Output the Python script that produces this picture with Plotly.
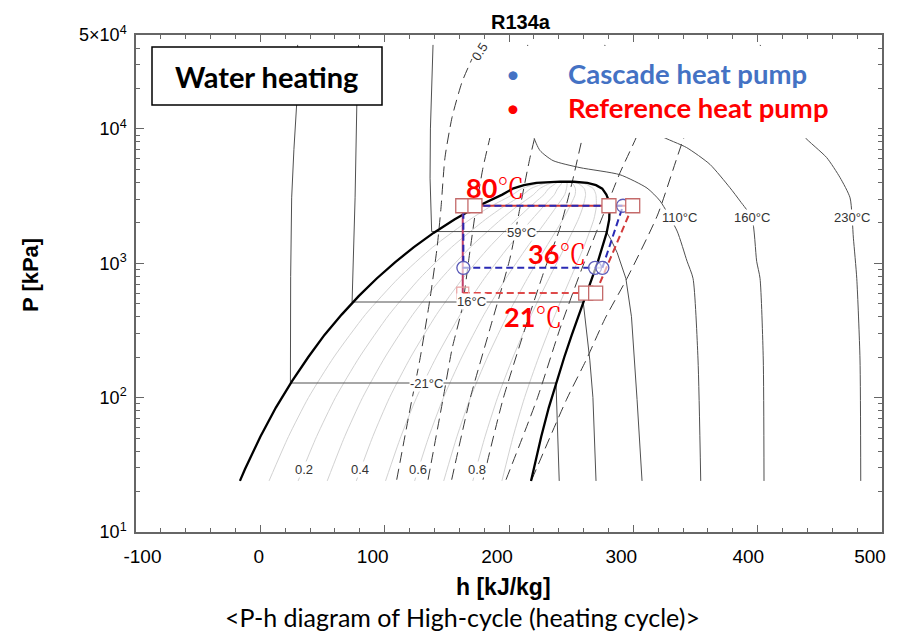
import plotly.graph_objects as go
import math

# ---------------- data (h in kJ/kg, P in kPa) ----------------
DOME_LIQ_H = [-16.4, -12.3, 0, 12.5, 25.5, 38.6, 51.6, 65.4, 79.3, 93.6, 108.3, 123.5, 139.3, 156.1, 174.0, 194.6, 203, 212, 222, 232, 241]
DOME_LIQ_P = [24, 29.4, 51.2, 84.4, 132.8, 200.7, 293, 414.9, 572.1, 770.6, 1017, 1319, 1682, 2117, 2633, 3244, 3591, 3814, 3972, 4040, 4059]
DOME_VAP_H = [241, 252, 263, 270, 275, 278.3, 280.2, 280.9, 280.6, 278.5, 275.3, 271.3, 266.7, 261.6, 256.2, 250.5, 244.5, 238.4, 232.0, 225.9, 219.5, 217.7]
DOME_VAP_P = [4059, 4045, 3972, 3814, 3591, 3244, 2926, 2633, 2117, 1682, 1319, 1017, 770.6, 572.1, 414.9, 293, 200.7, 132.8, 84.4, 51.2, 29.4, 24]

ISO_M21_H = [30, 29.2, 27.0, 25.2, 24.4, 24.2, 237.8, 238.6, 239.5, 240.4]
ISO_M21_P = [42200, 15100, 7000, 3070, 800, 128.5, 128.5, 80, 45, 24]
ISO_16_H = [79, 77.6, 76.2, 74.5, 73.8, 259.7, 262.5, 265, 267.5, 270]
ISO_16_P = [42200, 15100, 3070, 1000, 515, 515, 300, 190, 100, 24]
ISO_59_H = [138.9, 136.8, 136.5, 137.8, 278.3, 282, 287, 294, 298.5, 300.5, 303, 307]
ISO_59_P = [42200, 10000, 4300, 1722, 1722, 1500, 1200, 772, 400, 194, 97, 24]
ISO_110_H = [215, 219.3, 224.9, 235.4, 257.1, 289.3, 311, 321.5, 335.2, 343.2, 348, 352, 354.2]
ISO_110_P = [42200, 9100, 6910, 5810, 5150, 4560, 3630, 2910, 1737, 1036, 773, 194, 24]
ISO_160_H = [277, 293.3, 321.5, 342.9, 361.6, 377.7, 385.8, 395.4, 399.2, 401.9, 404.5, 405.1]
ISO_160_P = [42200, 14500, 8940, 7260, 5450, 3650, 2910, 2164, 1034, 773, 194, 24]
ISO_230_H = [402, 420, 436.7, 455.5, 466.3, 474.3, 477, 479.7, 482.3, 482.9]
ISO_230_P = [42200, 15000, 8900, 6120, 4336, 3070, 1538, 773, 194, 24]
ISO_LABELS = ["-21°C", "16°C", "59°C", "110°C", "160°C", "230°C"]
ISO_LABEL_H = [133.8, 170.0, 210.4, 337.5, 395.4, 475.6]
ISO_LABEL_P = [128.5, 519, 1707, 2174, 2174, 2174]

S05_H = [109.7, 120.4, 128.4, 136.5, 142.1, 145.3, 148.5, 154.2, 162.2, 170.2]
S05_P = [24.5, 82, 194, 547, 1295, 2582, 6115, 12195, 22300, 33160]
S06_H = [134.9, 146.9, 154.2, 162.2, 167.8, 173.5, 179.1, 184.7, 190.3, 196.8]
S06_P = [24.5, 97.4, 230.8, 460, 1090, 2582, 5148, 8638, 14490, 24300]
S07_H = [153.9, 168.6, 184.7, 200.8, 208.8, 216.9, 224.9, 234.6]
S07_P = [24.5, 97.4, 326, 1090, 2582, 6115, 12195, 22300]
S08_H = [179.1, 195.2, 212.9, 229, 241, 250.7, 259.5, 270.8]
S08_P = [24.5, 97.4, 326, 917, 1829, 3975, 8941, 20460]
S09_H = [197.6, 222.5, 241, 258.7, 274.8, 289.3, 303, 315]
S09_P = [24.5, 97.4, 326, 917, 2174, 4724, 8941, 18760]
S10_H = [218.3, 246.4, 262.5, 277.2, 294.9, 319.5, 340.8, 357.6]
S10_P = [24.5, 97.4, 194.3, 387, 772, 2289, 8638, 18760]

Q_P = [24, 51.2, 100, 200.7, 415, 771, 1319, 2117, 2633, 3244, 3591, 3972, 4059]
Q01_H = [7.0, 22.6, 38.7, 59.2, 84.5, 110.9, 138.7, 168.6, 184.7, 203.0, 210.2, 226.1, 241]
Q02_H = [30.4, 45.2, 60.4, 79.8, 103.6, 128.2, 153.9, 181.0, 195.4, 211.3, 217.4, 230.2, 241]
Q03_H = [53.8, 67.8, 82.2, 100.4, 122.6, 145.5, 169.0, 193.5, 206.1, 219.7, 224.6, 234.3, 241]
Q04_H = [77.2, 90.4, 103.9, 121.0, 141.7, 162.8, 184.2, 205.9, 216.8, 228.1, 231.8, 238.4, 241]
Q05_H = [100.7, 113.0, 125.6, 141.6, 160.8, 180.2, 199.4, 218.4, 227.5, 236.5, 239.0, 242.5, 241]
Q06_H = [124.1, 135.5, 147.3, 162.1, 179.9, 197.5, 214.6, 230.8, 238.1, 244.8, 246.2, 246.6, 241]
Q07_H = [147.5, 158.1, 169.0, 182.7, 199.0, 214.8, 229.8, 243.3, 248.8, 253.2, 253.4, 250.7, 241]
Q08_H = [170.9, 180.7, 190.8, 203.3, 218.0, 232.1, 244.9, 255.7, 259.5, 261.6, 260.6, 254.8, 241]
Q09_H = [194.3, 203.3, 212.5, 223.9, 237.1, 249.4, 260.1, 268.2, 270.2, 269.9, 267.8, 258.9, 241]
Q_LABELS = ["0.2", "0.4", "0.6", "0.8"]
Q_LABEL_H = [35.1, 80.2, 126.8, 174.0]

P_COND = 2680
P_EVAP_REF = 600
P_EVAP_CAS = 925
REF_H_COMP = [269.7, 299.5]
REF_H_COND = [299.5, 162.8]
REF_H_EVAP = [162.8, 269.7]
REF_SQ_H = [162.8, 172.6, 280.4, 299.5, 261.7, 269.7]
REF_SQ_P = [P_COND, P_COND, P_COND, P_COND, P_EVAP_REF, P_EVAP_REF]
CAS_H = [275.1, 291.7, 163.3, 163.3, 275.1]
CAS_P = [P_EVAP_CAS, P_COND, P_COND, P_EVAP_CAS, P_EVAP_CAS]
CAS_CIRC_H = [163.3, 269.2, 275.1, 291.7]
CAS_CIRC_P = [P_EVAP_CAS, P_EVAP_CAS, P_EVAP_CAS, P_COND]

X_TICKS = [-100, 0, 100, 200, 300, 400, 500]
X_TICKTEXT = ["-100", "0", "100", "200", "300", "400", "500"]
Y_TICKS = [10, 100, 1000, 10000, 50000]
Y_TICKTEXT = ["10<sup>1</sup>", "10<sup>2</sup>", "10<sup>3</sup>", "10<sup>4</sup>", "5×10<sup>4</sup>"]

# ---------------- figure ----------------
fig = go.Figure()
SANS = "Liberation Sans, Arial, sans-serif"
CAL = "Lato, Noto Sans, sans-serif"

for qh in [Q01_H, Q02_H, Q03_H, Q04_H, Q05_H, Q06_H, Q07_H, Q08_H, Q09_H]:
    fig.add_trace(go.Scatter(x=qh, y=Q_P, mode="lines",
                             line=dict(color="#d2d2d2", width=1, shape="spline", smoothing=0.6),
                             hoverinfo="skip"))

for sh, sp in [(S05_H, S05_P), (S06_H, S06_P), (S07_H, S07_P), (S08_H, S08_P), (S09_H, S09_P), (S10_H, S10_P)]:
    fig.add_trace(go.Scatter(x=sh, y=sp, mode="lines",
                             line=dict(color="#3a3a3a", width=1, dash="11px,6px", shape="spline", smoothing=0.6),
                             hoverinfo="skip"))

for ih, ip in [(ISO_M21_H, ISO_M21_P), (ISO_16_H, ISO_16_P), (ISO_59_H, ISO_59_P)]:
    fig.add_trace(go.Scatter(x=ih, y=ip, mode="lines", line=dict(color="#505050", width=1),
                             hoverinfo="skip"))
for ih, ip in [(ISO_110_H, ISO_110_P), (ISO_160_H, ISO_160_P), (ISO_230_H, ISO_230_P)]:
    fig.add_trace(go.Scatter(x=ih, y=ip, mode="lines",
                             line=dict(color="#505050", width=1, shape="spline", smoothing=0.6),
                             hoverinfo="skip"))

fig.add_trace(go.Scatter(x=DOME_LIQ_H + DOME_VAP_H[1:], y=DOME_LIQ_P + DOME_VAP_P[1:], mode="lines",
                         line=dict(color="black", width=2.3), hoverinfo="skip"))

RED = "#d23a3a"
BLUE = "#2a2ab4"
fig.add_trace(go.Scatter(x=REF_H_COND, y=[P_COND, P_COND], mode="lines", line=dict(color=RED, width=2)))
fig.add_trace(go.Scatter(x=[REF_H_COND[1], REF_H_COND[1]], y=[P_COND, P_EVAP_REF], mode="lines",
                         line=dict(color="#c0406a", width=2)))
fig.add_trace(go.Scatter(x=REF_H_COMP, y=[P_EVAP_REF, P_COND], mode="lines",
                         line=dict(color=RED, width=2, dash="7px,4px")))
fig.add_trace(go.Scatter(x=REF_H_EVAP, y=[P_EVAP_REF, P_EVAP_REF], mode="lines",
                         line=dict(color="#de4a4a", width=2, dash="7px,4px")))
fig.add_trace(go.Scatter(x=CAS_H, y=CAS_P, mode="lines",
                         line=dict(color=BLUE, width=2, dash="7px,4px")))
fig.add_trace(go.Scatter(x=CAS_CIRC_H, y=CAS_CIRC_P, mode="markers",
                         marker=dict(symbol="circle", size=13, color="rgba(255,255,255,0.6)",
                                     line=dict(color="#5a5ab8", width=1.3))))
fig.add_trace(go.Scatter(x=[REF_H_EVAP[0]], y=[P_EVAP_REF], mode="markers",
                         marker=dict(symbol="square", size=12, color="rgba(255,255,255,0)",
                                     line=dict(color="#eaa0a0", width=1.2))))
fig.add_trace(go.Scatter(x=REF_SQ_H, y=REF_SQ_P, mode="markers",
                         marker=dict(symbol="square", size=14, color="white",
                                     line=dict(color="#c46a6a", width=1.3))))

# ---------------- layout ----------------
# the page body adds an 8 px offset, so the figure is 8 px smaller and shifted
OFF = 8
W, H = 902 - OFF, 633 - OFF
L, R, T, B = 136 - OFF, 20, 35 - OFF, 101
PW, PH = W - L - R, H - T - B


def px(x):
    return (x - OFF - L) / PW


def py(y):
    return (H - B - (y - OFF)) / PH


# tick labels in the reference sit a little left of their ticks: shift all, then pad a few back
NB = "&nbsp;"
LEAD = {"-100": 7, "0": 4, "400": 1}
x_ticktext_padded = [NB * LEAD.get(t, 0) + t for t in X_TICKTEXT]

minor_y = [k * 10 ** d for d in range(1, 5) for k in range(2, 10) if k * 10 ** d < 50000]

fig.update_layout(
    width=W, height=H, margin=dict(l=L, r=R, t=T, b=B, autoexpand=False),
    plot_bgcolor="white", paper_bgcolor="white", showlegend=False,
    xaxis=dict(range=[-100, 500], tickmode="array", tickvals=X_TICKS, ticktext=x_ticktext_padded,
               ticks="inside", ticklen=7, automargin=False,
               tickcolor="#666", tickwidth=1, showline=True, linecolor="#666", linewidth=1.5,
               mirror="allticks", showgrid=False, zeroline=False,
               tickfont=dict(family=SANS, size=19, color="black"), ticklabelstandoff=6,
               ticklabelshift=-12,
               minor=dict(tickmode="array", tickvals=list(range(-80, 500, 20)), ticks="inside",
                          ticklen=4, tickcolor="#666", showgrid=False)),
    yaxis=dict(type="log", range=[1, math.log10(50000)], tickmode="array", tickvals=Y_TICKS,
               ticktext=Y_TICKTEXT, ticks="inside", ticklen=8, tickcolor="#666", tickwidth=1,
               showline=True, linecolor="#666", linewidth=1.5, mirror="allticks", automargin=False,
               showgrid=False, zeroline=False, tickfont=dict(family=SANS, size=18, color="black"),
               ticklabelstandoff=4,
               minor=dict(tickmode="array", tickvals=minor_y, ticks="inside", ticklen=4,
                          tickcolor="#666", showgrid=False)),
)

shapes = [
    dict(type="rect", xref="paper", yref="paper", x0=px(487), x1=px(878), y0=py(138), y1=py(46),
         fillcolor="white", line=dict(width=0), layer="above"),
    dict(type="rect", xref="paper", yref="paper", x0=px(152), x1=px(382), y0=py(105), y1=py(47),
         fillcolor="white", line=dict(color="black", width=1.5), layer="above"),
]
fig.update_layout(shapes=shapes)

ann = []
for t, h, p in zip(ISO_LABELS, ISO_LABEL_H, ISO_LABEL_P):
    ann.append(dict(x=h, y=math.log10(p), xref="x", yref="y", text=t, showarrow=False,
                    xanchor="center", yanchor="middle",
                    font=dict(family=SANS, size=13, color="#333"), bgcolor="white", borderpad=0))
for t, h in zip(Q_LABELS, Q_LABEL_H):
    ann.append(dict(x=h, y=math.log10(29.1), xref="x", yref="y", text=t, showarrow=False,
                    xanchor="center", yanchor="middle",
                    font=dict(family=SANS, size=13, color="#333"), bgcolor="white", borderpad=0))
ann.append(dict(x=176.7, y=4.573, xref="x", yref="y", text="0.5", showarrow=False, textangle=-58,
                xanchor="center", yanchor="middle",
                font=dict(family=SANS, size=13, color="#333")))

for t, h, lp in [("80", 188.7, 3.562), ("36", 238.6, 3.075), ("21", 219.3, 2.603)]:
    ann.append(dict(x=h, y=lp, xref="x", yref="y", text="<b>" + t + "</b>℃", showarrow=False,
                    xanchor="center", yanchor="middle",
                    font=dict(family="Lato, Noto Serif CJK JP, Noto Sans CJK JP", size=27, color="#ff0000")))


def pann(x, y, text, size, color="black", family=CAL, xanchor="center", angle=0):
    return dict(x=px(x), y=py(y), xref="paper", yref="paper", text=text, showarrow=False,
                xanchor=xanchor, yanchor="middle", textangle=angle,
                font=dict(family=family, size=size, color=color))


ann += [
    pann(266, 76, "<b>Water heating</b>", 29),
    pann(513, 74, "•", 24, "#4472c4"),
    pann(513, 108, "•", 24, "#ff0000"),
    pann(566, 74, "<b>Cascade heat pump</b>", 27.5, "#4472c4", xanchor="left"),
    pann(566, 108, "<b>Reference heat pump</b>", 27.5, "#ff0000", xanchor="left"),
    pann(521, 22, "<b>R134a</b>", 20, family=SANS),
    pann(30, 275, "<b>P [kPa]</b>", 22, family=SANS, angle=-90),
    pann(503, 587, "<b>h [kJ/kg]</b>", 23, family=SANS),
    pann(462, 617, "&lt;P-h diagram of High-cycle (heating cycle)&gt;", 25),
]
fig.update_layout(annotations=ann)

fig.write_html("out.html")
